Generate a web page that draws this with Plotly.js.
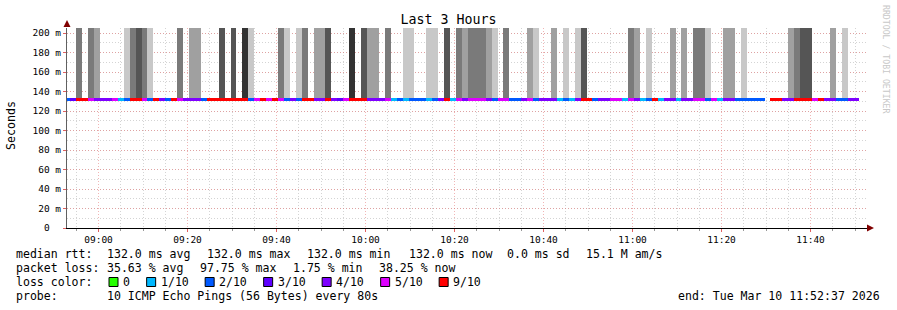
<!DOCTYPE html>
<html><head><meta charset="utf-8">
<script src="https://cdn.plot.ly/plotly-3.0.1.min.js"></script>
<style>html,body{margin:0;padding:0;background:#fff;}#chart{width:897px;height:310px;}</style>
</head><body><div id="chart"></div>
<script>
// ---- data ----
const firstStepStartUTC = Date.UTC(2026, 2, 10, 8, 52, 20); // start of first (partially visible) 80 s step
const stepSeconds = 80;
const medianRtt = 132.0;       // ms, constant median
const smokeUpper = 260;        // ms, smoke goes above the visible range
const rangeStart = '2026-03-10 08:52:55';
const rangeEnd = '2026-03-10 11:52:55';

// pings lost (out of 10) per 80 s step; null = no data
const lossPings = [
  2,3,10,10,5,4,4,4,5,1,
  2,10,10,5,2,10,4,2,10,5,
  4,4,4,2,10,10,10,10,10,10,
  10,2,5,10,5,10,5,2,4,2,
  9,10,4,4,10,4,3,5,10,10,
  10,4,4,4,5,1,2,1,2,2,
  2,1,2,4,10,1,5,4,5,5,
  5,4,2,5,5,2,2,4,5,2,
  4,4,4,1,2,1,4,10,10,2,
  4,4,5,5,1,5,4,1,2,10,
  1,4,4,1,4,4,5,5,2,5,
  1,4,4,2,2,2,2,2,null,10,
  10,4,4,10,10,10,5,10,4,4,
  2,2,4,4
];
// smoke shade per step (0 = none, 1 light .. 5 darkest)
const smokeShade = [
  0,0,3,0,3,2,0,0,0,0,
  1,3,4,3,1,0,0,0,0,3,
  0,2,2,0,0,0,4,0,4,0,
  5,1,0,0,0,0,3,1,0,1,
  3,0,2,2,4,0,0,0,5,0,
  4,2,2,0,3,0,0,1,1,0,
  0,1,1,0,4,0,3,2,3,3,
  3,2,1,0,3,0,0,0,2,1,
  0,0,2,0,1,0,1,4,0,0,
  0,0,0,0,0,3,2,0,1,0,
  0,0,2,0,2,0,3,3,1,0,
  0,2,2,0,1,0,0,0,0,0,
  0,0,2,3,4,4,0,0,0,2,
  0,1,0,0
];
const smokeColors = [null, '#c8c8c8', '#a0a0a0', '#7a7a7a', '#555555', '#333333'];

const lossLegendLabels = ['0', '1/10', '2/10', '3/10', '4/10', '5/10', '9/10'];
const lossLegendColors = ['#26ff00', '#00b8ff', '#0059ff', '#5e00ff', '#7e00ff', '#dd00ff', '#ff0000'];
const lossLegendThresholds = [0, 1, 2, 3, 4, 5, 9];

const yTickVals = [0, 20, 40, 60, 80, 100, 120, 140, 160, 180, 200];
const yTickText = ['0\u00a0\u00a0', '20 m', '40 m', '60 m', '80 m', '100 m', '120 m', '140 m', '160 m', '180 m', '200 m'];

const chartTitle = 'Last 3 Hours';
const yTitle = 'Seconds';
const rowLabels = ['median rtt:', 'packet loss:', 'loss color:', 'probe:'];
const rttFields = ['132.0 ms avg', '132.0 ms max', '132.0 ms min', '132.0 ms now', '0.0 ms sd', '15.1 M am/s'];
const lossFields = ['35.63 % avg', '97.75 % max', '1.75 % min', '38.25 % now'];
const probeText = '10 ICMP Echo Pings (56 Bytes) every 80s';
const endText = 'end: Tue Mar 10 11:52:37 2026';
const watermark = 'RRDTOOL / TOBI OETIKER';

// ---- layout positions (pixels) ----
const rttFieldX = [107.3, 207.3, 307.3, 409.3, 507.3, 586];
const lossFieldX = [107.3, 200, 293.3, 379.3];
const rowY = [254, 268, 282, 296];

// ---- helpers ----
const MONO = 'DejaVu Sans Mono, monospace';
const W = 897, H = 310, ML = 67, MR = 29, MT = 28, MB = 82;
const PW = W - ML - MR, PH = H - MT - MB;
const px = x => (x - ML) / PW;
const py = y => (MT + PH - y) / PH;
const nb = s => s.replace(/ /g, '\u00a0');
const stepCenter = i => new Date(firstStepStartUTC + (i * stepSeconds + stepSeconds / 2) * 1000)
  .toISOString().replace('T', ' ').replace('Z', '');
const lossColor = v => {
  let c = lossLegendColors[0];
  lossLegendThresholds.forEach((t, j) => { if (v >= t) c = lossLegendColors[j]; });
  return c;
};

// smoke trace
const sx = [], sy = [], sc = [];
smokeShade.forEach((s, i) => {
  if (s > 0) { sx.push(stepCenter(i)); sy.push(smokeUpper - medianRtt); sc.push(smokeColors[s]); }
});
// median line trace coloured by loss
const lx = [], ly = [], lc = [];
const lineHalf = 1.45;
lossPings.forEach((v, i) => {
  if (v !== null) { lx.push(stepCenter(i)); ly.push(2 * lineHalf); lc.push(lossColor(v)); }
});

const traces = [
  { type: 'bar', x: sx, y: sy, base: medianRtt, width: stepSeconds * 1000,
    marker: { color: sc, line: { width: 0 } }, hoverinfo: 'skip', showlegend: false },
  { type: 'bar', x: lx, y: ly, base: medianRtt - lineHalf, width: stepSeconds * 1000,
    marker: { color: lc, line: { width: 0 } }, hoverinfo: 'skip', showlegend: false }
];

const annotations = [];
const shapes = [];
const TXT = 11.55;
const textAnn = (x, y, text, anchor) => ({
  xref: 'paper', yref: 'paper', x: px(x), y: py(y), text: nb(text), showarrow: false,
  xanchor: anchor || 'left', yanchor: 'middle', borderpad: 0, borderwidth: 0,
  font: { family: MONO, size: TXT, color: '#000' } });
// y title
annotations.push({ xref: 'paper', yref: 'paper', x: px(11), y: py(126), text: yTitle, textangle: -90,
  showarrow: false, xanchor: 'center', yanchor: 'middle', font: { family: MONO, size: 11.6, color: '#000' } });
// watermark
annotations.push({ xref: 'paper', yref: 'paper', x: px(886), y: py(59), text: nb(watermark), textangle: 90,
  showarrow: false, xanchor: 'center', yanchor: 'middle', font: { family: MONO, size: 8.2, color: '#c8c8c8' } });
// stats rows
rowLabels.forEach((t, i) => annotations.push(textAnn(16, rowY[i], t)));
rttFields.forEach((t, i) => annotations.push(textAnn(rttFieldX[i], rowY[0], t)));
lossFields.forEach((t, i) => annotations.push(textAnn(lossFieldX[i], rowY[1], t)));
annotations.push(textAnn(107.3, rowY[3], probeText));
annotations.push(textAnn(880, rowY[3], endText, 'right'));
// loss colour legend
let lgx = 109;
const charW = 6.95;
lossLegendLabels.forEach((lab, i) => {
  shapes.push({ type: 'rect', xref: 'paper', yref: 'paper', x0: px(lgx), x1: px(lgx + 9), y0: py(286.5), y1: py(277.5),
    fillcolor: lossLegendColors[i], line: { color: '#000', width: 1 } });
  annotations.push(textAnn(lgx + 14, rowY[2], lab));
  lgx += charW * lab.length + 30.7;
});
// axis arrows
const arrowCol = '#800000';
shapes.push({ type: 'path', xref: 'paper', yref: 'paper',
  path: `M ${px(867)} ${py(224.5)} L ${px(874)} ${py(228)} L ${px(867)} ${py(231.5)} Z`,
  fillcolor: arrowCol, line: { width: 0 } });
shapes.push({ type: 'path', xref: 'paper', yref: 'paper',
  path: `M ${px(63.5)} ${py(27)} L ${px(67)} ${py(20)} L ${px(70.5)} ${py(27)} Z`,
  fillcolor: arrowCol, line: { width: 0 } });

const majorGrid = 'rgba(230,120,120,0.55)';
const minorGrid = 'rgba(170,170,170,0.5)';
const layout = {
  width: W, height: H,
  margin: { l: ML, r: MR, t: MT, b: MB, pad: 0 },
  paper_bgcolor: '#fff', plot_bgcolor: '#fff',
  barmode: 'overlay', bargap: 0,
  showlegend: false,
  title: { text: chartTitle, font: { family: MONO, size: 13.3, color: '#000' },
    xref: 'container', yref: 'container', x: 0.5, y: 1 - 19 / H, xanchor: 'center', yanchor: 'middle' },
  xaxis: {
    type: 'date', range: [rangeStart, rangeEnd], fixedrange: true,
    tick0: '2026-03-10 09:00:00', dtick: 20 * 60 * 1000, tickformat: '%H:%M',
    ticks: 'outside', ticklen: 3, tickcolor: '#e06060', tickwidth: 1,
    tickfont: { family: MONO, size: 9.5, color: '#000' },
    showgrid: true, gridcolor: majorGrid, griddash: '1px,2px', gridwidth: 1,
    minor: { dtick: 5 * 60 * 1000, showgrid: true, gridcolor: minorGrid, griddash: '1px,2px',
      ticks: 'outside', ticklen: 2, tickcolor: '#999' },
    showline: true, linecolor: '#000', linewidth: 1, zeroline: false
  },
  yaxis: {
    range: [0, PH / 0.975], fixedrange: true,
    tickmode: 'array', tickvals: yTickVals, ticktext: yTickText,
    ticks: 'outside', ticklen: 3, tickcolor: '#e06060',
    tickfont: { family: MONO, size: 9.5, color: '#000' },
    showgrid: true, gridcolor: majorGrid, griddash: '1px,2px',
    minor: { dtick: 10, showgrid: true, gridcolor: minorGrid, griddash: '1px,2px' },
    showline: true, linecolor: '#606060', linewidth: 1, zeroline: false
  },
  annotations: annotations,
  shapes: shapes
};
Plotly.newPlot('chart', traces, layout, { staticPlot: true, displayModeBar: false });
</script>
</body></html>
